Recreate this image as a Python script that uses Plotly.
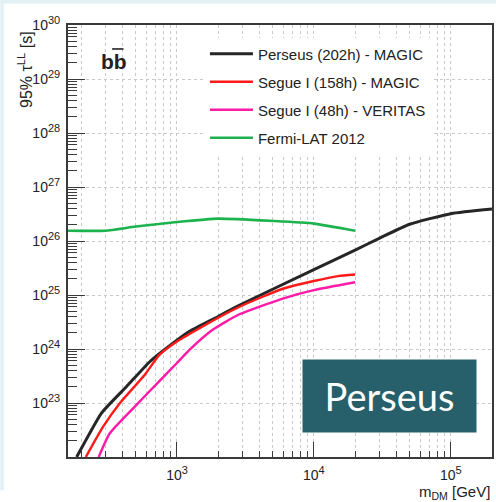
import plotly.graph_objects as go

# ---------------- data ----------------
perseus_m = [185, 210, 281, 427, 630, 832, 1228, 2000, 2800, 10000, 20000, 30000, 50000, 100000, 200000]
perseus_tau = [1.0e22, 1.8e22, 6.5e22, 2.0e23, 5.75e23, 1.02e24, 2.1e24, 4.0e24, 6.3e24,
               2.95e25, 6.8e25, 1.12e26, 2.04e26, 3.2e26, 3.9e26]

segue_magic_m = [216, 288, 381, 580, 744, 1000, 2000, 3000, 6000, 10000, 15000, 20000]
segue_magic_tau = [1.0e22, 3.6e22, 9.8e22, 3.3e23, 7.8e23, 1.38e24, 3.8e24, 6.4e24, 1.32e25, 1.82e25, 2.24e25, 2.4e25]

segue_veritas_m = [268, 323, 502, 744, 1000, 1228, 1810, 2830, 6000, 10000, 20000]
segue_veritas_tau = [1.0e22, 2.75e22, 9.05e22, 2.55e23, 5.5e23, 9.5e23, 2.24e24, 4.35e24, 8.7e24, 1.23e25, 1.72e25]

fermi_m = [160, 300, 500, 1000, 2000, 5000, 10000, 20000]
fermi_tau = [1.55e26, 1.55e26, 1.85e26, 2.25e26, 2.6e26, 2.35e26, 2.1e26, 1.55e26]

series_names = ["Perseus (202h) - MAGIC", "Segue I (158h) - MAGIC", "Segue I (48h) - VERITAS", "Fermi-LAT 2012"]
series_colors = ["#262626", "#ff1a1a", "#ff1aa8", "#1cb24e"]

x_major = [1e3, 1e4, 1e5]
x_major_text = ["10<sup><span style='font-size:11px'>%d</span></sup>" % e for e in (3, 4, 5)]
y_major = [10.0 ** e for e in range(23, 31)]
y_major_text = ["10<sup><span style='font-size:11px'>%d</span></sup>" % e for e in range(23, 31)]

x_minor = [k * 10.0 ** e for e in range(2, 6) for k in range(2, 10)]
y_minor = [k * 10.0 ** e for e in range(22, 30) for k in range(2, 10)]

# ---------------- figure ----------------
fig = go.Figure()
data = [(perseus_m, perseus_tau), (segue_magic_m, segue_magic_tau),
        (segue_veritas_m, segue_veritas_tau), (fermi_m, fermi_tau)]
widths = [3, 2.4, 2.4, 2.6]
for i, ((xs, ys), name, col) in enumerate(zip(data, series_names, series_colors)):
    fig.add_trace(go.Scatter(x=xs, y=ys, mode="lines", name=name,
                             line=dict(color=col, width=widths[i], shape="spline", smoothing=0.5),
                             legendgroup="g%d" % i))

axis_line = "#3a3a3a"
grid_col = "#c9c9c9"
font_fam = "Liberation Sans, Arial, sans-serif"

fig.update_layout(
    width=496, height=502,
    margin=dict(l=68, r=2, t=25, b=45),
    paper_bgcolor="white", plot_bgcolor="white",
    font=dict(family=font_fam, color="#222", size=14),
    showlegend=True,
    legend=dict(x=0.323, y=0.971, xanchor="left", yanchor="top",
                bgcolor="white", borderwidth=0, font=dict(size=15, color="#222"),
                tracegroupgap=5.5, itemwidth=43),
    xaxis=dict(type="log", range=[2.204, 5.301],
               tickmode="array", tickvals=x_major, ticktext=x_major_text,
               ticks="inside", ticklen=15, tickwidth=1.2, tickcolor=axis_line,
               showline=True, linecolor=axis_line, linewidth=2, mirror=True,
               showgrid=True, gridcolor=grid_col, griddash="dot", gridwidth=1,
               zeroline=False, tickfont=dict(size=14), ticklabelstandoff=4,
               minor=dict(tickmode="array", tickvals=x_minor, ticks="inside", ticklen=6,
                          tickwidth=1, tickcolor=axis_line,
                          showgrid=True, gridcolor=grid_col, griddash="dot", gridwidth=1)),
    yaxis=dict(type="log", range=[22, 30],
               tickmode="array", tickvals=y_major, ticktext=y_major_text,
               ticks="inside", ticklen=17, tickwidth=1.2, tickcolor=axis_line,
               showline=True, linecolor=axis_line, linewidth=2, mirror=True,
               showgrid=True, gridcolor=grid_col, griddash="dot", gridwidth=1,
               zeroline=False, tickfont=dict(size=14), ticklabelstandoff=3,
               minor=dict(tickmode="array", tickvals=y_minor, ticks="inside", ticklen=9,
                          tickwidth=1, tickcolor=axis_line, showgrid=False)),
)

# axis titles
fig.add_annotation(text="m<sub>DM</sub> [GeV]", xref="paper", yref="paper",
                   x=1.0, y=-0.0815, xanchor="right", yanchor="middle",
                   showarrow=False, font=dict(size=15))
fig.add_annotation(text="95% \u03c4<sup>LL</sup> [s]", xref="paper", yref="paper",
                   x=-0.101, y=0.99, xanchor="center", yanchor="top", textangle=-90,
                   showarrow=False, font=dict(size=16))

# channel label b b-bar
fig.add_annotation(text="<b>bb</b>", xref="paper", yref="paper",
                   x=0.073, y=0.915, xanchor="left", yanchor="middle",
                   showarrow=False, font=dict(size=21, color="#222"))
fig.add_shape(type="line", xref="paper", yref="paper", x0=0.104, x1=0.131, y0=0.9445, y1=0.9445,
              line=dict(color="#222", width=1.6))

# Perseus box
fig.add_annotation(text="Perseus", xref="paper", yref="paper",
                   x=0.9648, y=0.2269, xanchor="right", yanchor="top",
                   showarrow=False, bgcolor="#27606a", width=169, height=68,
                   borderpad=2, font=dict(size=38, color="white", family="Lato, Open Sans, sans-serif"))

# slide-background strips (top and left)
fig.add_shape(type="rect", xref="paper", yref="paper", x0=-0.1596, x1=1.01, y0=1.0498, y1=1.06,
              line=dict(width=0), fillcolor="#e2eff4", layer="below")
fig.add_shape(type="rect", xref="paper", yref="paper", x0=-0.1596, x1=-0.1514, y0=-0.077, y1=1.06,
              line=dict(width=0), fillcolor="#e2eff4", layer="below")

fig.write_html("out.html")
